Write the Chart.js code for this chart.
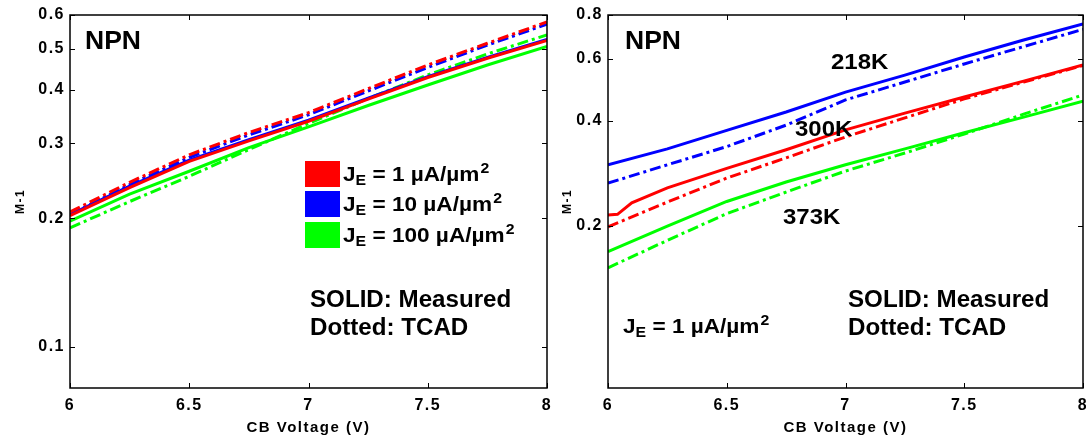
<!DOCTYPE html>
<html>
<head>
<meta charset="utf-8">
<script src="https://cdn.jsdelivr.net/npm/chart.js@4.4.0/dist/chart.umd.min.js"></script>
<style>
  html, body { margin: 0; padding: 0; background: #fff; overflow: hidden; }
  #left { position: absolute; left: 0; top: 0; }
  #right { position: absolute; left: 560px; top: 0; }
</style>
</head>
<body>
<canvas id="left" width="560" height="441"></canvas>
<canvas id="right" width="540" height="441"></canvas>
<script>
const FONT = '"Liberation Sans", Arial, Helvetica, sans-serif';

// CB voltage sweep (V)
const voltage = [6, 6.25, 6.5, 6.75, 7, 7.25, 7.5, 7.75, 8];
const xTicks = [6, 6.5, 7, 7.5, 8];

// left panel: M-1 for three emitter current densities
const measJ1 = [0.203, 0.236, 0.272, 0.304, 0.338, 0.381, 0.428, 0.475, 0.523];
const tcadJ1 = [0.207, 0.243, 0.282, 0.318, 0.354, 0.403, 0.458, 0.515, 0.578];
const measJ10 = [0.204, 0.238, 0.274, 0.306, 0.340, 0.383, 0.430, 0.477, 0.526];
const tcadJ10 = [0.204, 0.240, 0.278, 0.314, 0.350, 0.398, 0.452, 0.510, 0.571];
const measJ100 = [0.197, 0.228, 0.258, 0.293, 0.328, 0.368, 0.411, 0.458, 0.506];
const tcadJ100 = [0.190, 0.219, 0.251, 0.290, 0.334, 0.382, 0.434, 0.486, 0.539];
const leftTicks = [0.1, 0.2, 0.3, 0.4, 0.5, 0.6];

// right panel: M-1 at JE = 1 uA/um2 for three temperatures
const voltage300 = [6, 6.04, 6.1, 6.25, 6.5, 6.75, 7, 7.25, 7.5, 7.75, 8];
const meas300 = [0.215, 0.216, 0.233, 0.257, 0.292, 0.330, 0.376, 0.420, 0.467, 0.518, 0.576];
const tcad300 = [0.199, 0.234, 0.274, 0.313, 0.359, 0.407, 0.461, 0.515, 0.574];
const meas218 = [0.299, 0.332, 0.375, 0.423, 0.482, 0.539, 0.607, 0.679, 0.754];
const tcad218 = [0.265, 0.299, 0.337, 0.388, 0.458, 0.515, 0.580, 0.650, 0.728];
const meas373 = [0.169, 0.200, 0.235, 0.267, 0.299, 0.332, 0.369, 0.409, 0.454];
const tcad373 = [0.152, 0.182, 0.217, 0.250, 0.287, 0.323, 0.366, 0.417, 0.473];
const rightTicks = [0.2, 0.4, 0.6, 0.8];

const RED = '#ff0000', BLUE = '#0000ff', GREEN = '#00ff00';
const DASHDOT = [11, 4, 3, 4];
const STRETCH = 1.1;  // labels are drawn a little wide

function series(xs, ys, color, dashed) {
  return {
    data: xs.map((x, i) => ({ x: x, y: ys[i] })),
    borderColor: color,
    borderWidth: 3,
    borderDash: dashed ? DASHDOT : [],
    pointRadius: 0,
    tension: 0,
    fill: false
  };
}

function wideText(ctx, text, x, y, size, sx) {
  ctx.save();
  ctx.translate(x, y);
  ctx.scale(sx, 1);
  ctx.font = 'bold ' + size + 'px ' + FONT;
  ctx.fillText(text, 0, 0);
  ctx.restore();
}

// "J_E = n uA/um^2" with sub/superscript
function drawJE(ctx, x, y, size, value) {
  ctx.save();
  ctx.translate(x, y);
  ctx.scale(1.13, 1);
  ctx.textAlign = 'left';
  ctx.textBaseline = 'alphabetic';
  let cx = 0;
  const big = 'bold ' + size + 'px ' + FONT;
  const small = 'bold ' + Math.round(size * 0.68) + 'px ' + FONT;
  ctx.font = big;
  ctx.fillText('J', cx, 0);
  cx += ctx.measureText('J').width;
  ctx.font = small;
  ctx.fillText('E', cx, size * 0.22);
  cx += ctx.measureText('E').width;
  ctx.font = big;
  const body = ' = ' + value + ' \u00b5A/\u00b5m';
  ctx.fillText(body, cx, 0);
  cx += ctx.measureText(body).width;
  ctx.font = small;
  ctx.fillText('2', cx + 1, -size * 0.38);
  ctx.restore();
}

// wider letter spacing for the axis labels
const spacingPlugin = {
  id: 'spacing',
  beforeDraw(chart) { chart.ctx.letterSpacing = '1.5px'; }
};

// box round the plot, inward ticks and the text notes
const framePlugin = {
  id: 'frame',
  afterDatasetsDraw(chart, args, opts) {
    const ctx = chart.ctx;
    const a = chart.chartArea;
    const xs = chart.scales.x, ys = chart.scales.y;
    ctx.save();
    ctx.letterSpacing = '0px';
    ctx.strokeStyle = '#000';
    ctx.lineWidth = 1.5;
    ctx.strokeRect(a.left, a.top, a.right - a.left, a.bottom - a.top);
    ctx.lineWidth = 1;
    ctx.beginPath();
    xs.ticks.forEach(t => {
      const px = Math.round(xs.getPixelForValue(t.value)) + 0.5;
      ctx.moveTo(px, a.bottom); ctx.lineTo(px, a.bottom - 5);
      ctx.moveTo(px, a.top); ctx.lineTo(px, a.top + 5);
    });
    ys.ticks.forEach(t => {
      const py = Math.round(ys.getPixelForValue(t.value)) + 0.5;
      ctx.moveTo(a.left, py); ctx.lineTo(a.left + 5, py);
      ctx.moveTo(a.right, py); ctx.lineTo(a.right - 5, py);
    });
    ctx.stroke();

    ctx.fillStyle = '#000';
    ctx.textBaseline = 'middle';
    ctx.textAlign = 'left';
    (opts.notes || []).forEach(n => wideText(ctx, n.text, n.x, n.y, n.size, n.sx || STRETCH));
    (opts.swatches || []).forEach(s => {
      ctx.fillStyle = s.color;
      ctx.fillRect(s.x, s.y, 35, 26);
      ctx.fillStyle = '#000';
      drawJE(ctx, s.x + 38, s.y + 20, 20, s.value);
    });
    (opts.je || []).forEach(j => drawJE(ctx, j.x, j.y, 20, j.value));
    ctx.restore();
  }
};

function makeOptions(yMin, yMax, yTicks, yWidth, yTitlePad, rightPad, plugOpts) {
  return {
    responsive: false,
    animation: false,
    layout: { padding: { left: 0, top: 15, right: rightPad, bottom: 0 } },
    plugins: { legend: { display: false }, tooltip: { enabled: false }, frame: plugOpts },
    scales: {
      x: {
        type: 'linear', min: 6, max: 8,
        afterBuildTicks: s => { s.ticks = xTicks.map(v => ({ value: v })); },
        afterFit: s => { s.height = 53; },
        grid: { display: false, drawTicks: false },
        border: { display: false },
        ticks: {
          color: '#000', padding: 8, maxRotation: 0,
          font: { family: FONT, size: 16, weight: 'bold' },
          callback: v => String(v)
        },
        title: {
          display: true, text: 'CB Voltage (V)', color: '#000',
          font: { family: FONT, size: 15, weight: 'bold' },
          padding: { top: 0, bottom: 4 }
        }
      },
      y: {
        type: 'logarithmic', min: yMin, max: yMax,
        afterBuildTicks: s => { s.ticks = yTicks.map(v => ({ value: v })); },
        afterFit: s => { s.width = yWidth; },
        grid: { display: false, drawTicks: false },
        border: { display: false },
        ticks: {
          color: '#000', padding: 5,
          font: { family: FONT, size: 16, weight: 'bold' },
          callback: v => v.toFixed(1)
        },
        title: {
          display: true, text: 'M-1', color: '#000',
          font: { family: FONT, size: 12, weight: 'bold' },
          padding: { top: yTitlePad, bottom: 0 }
        }
      }
    }
  };
}

new Chart(document.getElementById('left'), {
  type: 'line',
  data: {
    datasets: [
      series(voltage, measJ1, RED, false),
      series(voltage, tcadJ1, RED, true),
      series(voltage, measJ10, BLUE, false),
      series(voltage, tcadJ10, BLUE, true),
      series(voltage, measJ100, GREEN, false),
      series(voltage, tcadJ100, GREEN, true)
    ]
  },
  options: makeOptions(0.08, 0.6, leftTicks, 70, 13, 13, {
    notes: [
      { text: 'NPN', x: 85, y: 42, size: 25, sx: 1.06 },
      { text: 'SOLID: Measured', x: 310, y: 301, size: 23, sx: 1.05 },
      { text: 'Dotted: TCAD', x: 310, y: 329, size: 23, sx: 1.05 }
    ],
    swatches: [
      { color: RED, x: 305, y: 161, value: '1' },
      { color: BLUE, x: 305, y: 191, value: '10' },
      { color: GREEN, x: 305, y: 222, value: '100' }
    ]
  }),
  plugins: [spacingPlugin, framePlugin]
});

new Chart(document.getElementById('right'), {
  type: 'line',
  data: {
    datasets: [
      series(voltage, meas218, BLUE, false),
      series(voltage, tcad218, BLUE, true),
      series(voltage300, meas300, RED, false),
      series(voltage, tcad300, RED, true),
      series(voltage, meas373, GREEN, false),
      series(voltage, tcad373, GREEN, true)
    ]
  },
  options: makeOptions(0.069, 0.8, rightTicks, 48, 0, 17, {
    notes: [
      { text: 'NPN', x: 65, y: 42, size: 25, sx: 1.06 },
      { text: '218K', x: 271, y: 63, size: 22, sx: 1.09 },
      { text: '300K', x: 235, y: 130, size: 22, sx: 1.09 },
      { text: '373K', x: 223, y: 218, size: 22, sx: 1.09 },
      { text: 'SOLID: Measured', x: 288, y: 301, size: 23, sx: 1.05 },
      { text: 'Dotted: TCAD', x: 288, y: 329, size: 23, sx: 1.05 }
    ],
    je: [{ x: 63, y: 333, value: '1' }]
  }),
  plugins: [spacingPlugin, framePlugin]
});
</script>
</body>
</html>
